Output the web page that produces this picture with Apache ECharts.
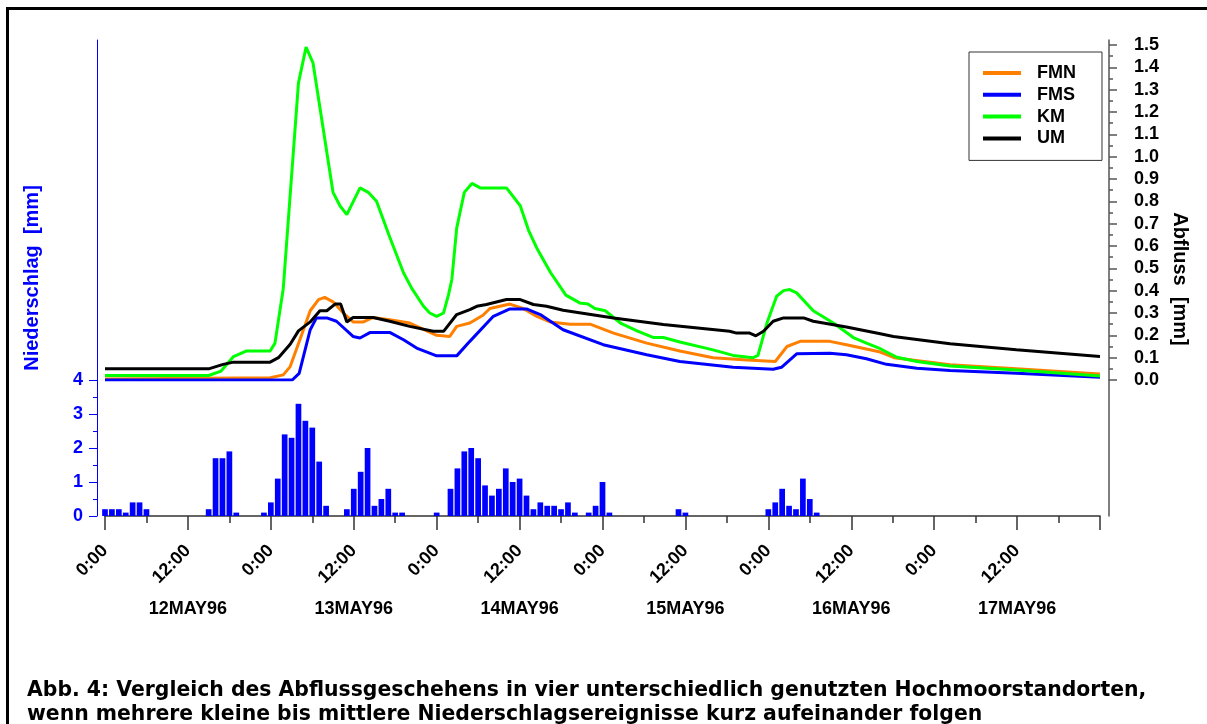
<!DOCTYPE html>
<html><head><meta charset="utf-8">
<script src="https://cdn.jsdelivr.net/npm/echarts@6/dist/echarts.min.js"></script>
<style>html,body{margin:0;padding:0;background:#fff}#chart{width:1207px;height:724px}</style>
</head><body><div id="chart"></div>
<script>
// ---- data ----
const dayLabels = ['12MAY96','13MAY96','14MAY96','15MAY96','16MAY96','17MAY96'];
const dayCenters = [12, 36, 60, 84, 108, 132];
const abflussTicks = [0,0.1,0.2,0.3,0.4,0.5,0.6,0.7,0.8,0.9,1.0,1.1,1.2,1.3,1.4,1.5];
const abflussMinorTicks = [0.05,0.15,0.25,0.35,0.45,0.55,0.65,0.75,0.85,0.95,1.05,1.15,1.25,1.35,1.45];
const seriesNames = ['FMN','FMS','KM','UM'];
const captionLines = [
  'Abb. 4: Vergleich des Abflussgeschehens in vier unterschiedlich genutzten Hochmoorstandorten,',
  'wenn mehrere kleine bis mittlere Niederschlagsereignisse kurz aufeinander folgen'
];

// precipitation (hour after 12MAY96 0:00, mm)
const precipHours = [0,1,2,3,4,5,6, 15,16,17,18,19, 23,24,25,26,27,28,29,30,31,32,
  35,36,37,38,39,40,41,42,43, 48, 50,51,52,53,54,55,56,57,58,59,60,61,62,63,64,65,66,67,68,
  70,71,72,73, 83,84, 96,97,98,99,100,101,102,103];
const precipValues = [0.2,0.2,0.2,0.1,0.4,0.4,0.2, 0.2,1.7,1.7,1.9,0.1, 0.1,0.4,1.1,2.4,2.3,3.3,2.8,2.6,1.6,0.3,
  0.2,0.8,1.3,2.0,0.3,0.5,0.8,0.1,0.1, 0.1, 0.8,1.4,1.9,2.0,1.7,0.9,0.6,0.8,1.4,1.0,1.1,0.6,0.2,0.4,0.3,0.3,0.2,0.4,0.1,
  0.1,0.3,1.0,0.1, 0.2,0.1, 0.2,0.4,0.8,0.3,0.2,1.1,0.5,0.1];

// runoff (hour, mm)
const fmnHours = [0,23.9,25.8,26.8,28.2,29.7,30.9,31.8,33.0,34.5,35.9,37.4,38.8,41.2,44.1,48.0,49.9,50.9,52.8,54.7,55.7,58.6,60.5,62.5,64.4,67.3,70.2,73.6,78.4,83.2,88.0,92.9,97.0,98.7,100.6,104.9,107.3,112.2,114.2,122.3,131.9,144];
const fmnValues = [0.005,0.01,0.023,0.06,0.18,0.31,0.36,0.37,0.35,0.30,0.26,0.26,0.28,0.27,0.255,0.20,0.195,0.24,0.255,0.29,0.32,0.34,0.32,0.285,0.26,0.25,0.25,0.21,0.165,0.13,0.10,0.09,0.083,0.15,0.173,0.173,0.158,0.125,0.10,0.068,0.05,0.027];

const fmsHours = [0,27.1,28.1,29.7,30.6,32.1,33.5,35.9,36.9,38.4,41.2,43.2,45.1,48.0,50.9,52.8,56.2,58.6,61.0,63.0,66.3,72.1,78.4,83.2,90.9,96.7,97.9,100.1,104.9,107.3,110.2,113.1,117.5,122.3,131.9,144];
const fmsValues = [0,0,0.03,0.225,0.278,0.278,0.263,0.195,0.188,0.213,0.213,0.18,0.143,0.108,0.108,0.173,0.285,0.318,0.318,0.293,0.225,0.158,0.113,0.083,0.057,0.048,0.057,0.117,0.12,0.113,0.095,0.07,0.053,0.042,0.03,0.012];

const kmHours = [0,15.0,16.8,18.6,20.5,23.9,24.6,25.8,28.0,29.1,30.1,33.0,34.0,35.0,36.9,38.1,39.3,41.2,43.2,44.4,46.1,47.0,48.0,49.0,49.7,50.2,50.9,52.0,53.1,54.3,58.1,60.1,61.3,62.5,64.5,66.7,68.7,69.9,70.9,72.4,74.6,77.0,79.4,80.8,83.2,88.0,90.9,93.8,94.5,95.8,97.2,98.2,99.1,100.1,102.5,105.4,108.3,110.2,112.2,114.6,117.5,122.3,131.9,144];
const kmValues = [0.02,0.02,0.04,0.105,0.13,0.13,0.165,0.41,1.33,1.49,1.42,0.84,0.78,0.74,0.86,0.84,0.80,0.64,0.48,0.41,0.33,0.30,0.285,0.30,0.38,0.45,0.68,0.84,0.88,0.86,0.86,0.78,0.67,0.59,0.48,0.38,0.345,0.34,0.32,0.31,0.255,0.22,0.19,0.19,0.17,0.135,0.11,0.10,0.11,0.255,0.375,0.40,0.405,0.39,0.31,0.255,0.19,0.165,0.14,0.102,0.083,0.063,0.045,0.018];

const umHours = [0,15.0,17.1,18.6,23.9,25.1,26.8,28.0,29.7,31.1,32.1,33.3,34.1,35.0,35.9,38.8,41.2,44.1,47.5,49.0,50.9,52.8,53.8,55.2,58.1,60.1,62.0,63.9,66.3,73.6,80.8,90.4,91.4,93.3,94.2,95.3,96.7,98.2,101.1,102.5,107.3,112.2,114.1,122.3,131.9,144];
const umValues = [0.05,0.05,0.07,0.08,0.08,0.10,0.16,0.22,0.26,0.31,0.31,0.34,0.34,0.26,0.28,0.28,0.263,0.24,0.218,0.218,0.293,0.315,0.33,0.338,0.36,0.36,0.338,0.33,0.312,0.278,0.248,0.218,0.21,0.21,0.198,0.218,0.263,0.278,0.278,0.263,0.237,0.207,0.195,0.162,0.135,0.105];

// ---- chart ----
const FONT = '"Liberation Sans", Arial, sans-serif';
const pairs = (h, v) => h.map((x, i) => [x, v[i]]);
const chart = echarts.init(document.getElementById('chart'), null, {renderer: 'canvas'});
const TOPMAX = 1.522;
const axisGrey = '#555';
const option = {
  animation: false,
  backgroundColor: '#fff',
  textStyle: {fontFamily: FONT},
  title: {
    text: captionLines.join('\n'), left: 22, top: 674,
    textStyle: {fontFamily: '"DejaVu Sans", Verdana, sans-serif', fontSize: 20.4, fontWeight: 'bold', lineHeight: 24, color: '#000'}
  },
  legend: {
    data: seriesNames, orient: 'vertical', left: 969, top: 52,
    icon: 'rect', itemWidth: 38, itemHeight: 4, itemGap: 3.8,
    padding: [12, 26, 13, 14], borderColor: '#333', borderWidth: 1,
    selectedMode: false,
    textStyle: {fontFamily: FONT, fontSize: 18, fontWeight: 'bold', color: '#000', lineHeight: 18, padding: [0, 0, 0, 11]}
  },
  grid: [
    {left: 105, width: 995, top: 40, height: 340},
    {left: 105, width: 995, top: 380, height: 136}
  ],
  xAxis: [
    {gridIndex: 0, type: 'value', min: 0, max: 144, show: false},
    {gridIndex: 1, type: 'value', min: 0, max: 144, interval: 12,
      axisLine: {show: true, onZero: false, lineStyle: {color: '#333', width: 1.5}},
      axisTick: {show: true, length: 14, lineStyle: {color: '#333', width: 1.5}},
      minorTick: {show: true, splitNumber: 2, length: 7, lineStyle: {color: '#333', width: 1.5}},
      splitLine: {show: false}, minorSplitLine: {show: false},
      axisLabel: {rotate: 45, margin: 32, fontSize: 18, fontWeight: 'bold', color: '#000',
        formatter: v => v === 144 ? '' : (v % 24 === 0 ? '0:00' : '12:00')}
    },
    {gridIndex: 1, type: 'value', min: 0, max: 144, position: 'bottom',
      axisLine: {show: false, onZero: false}, axisTick: {show: false}, splitLine: {show: false},
      axisLabel: {customValues: dayCenters, margin: 84, fontSize: 18, fontWeight: 'bold', color: '#000',
        formatter: v => dayLabels[dayCenters.indexOf(v)] || ''}
    }
  ],
  yAxis: [
    {gridIndex: 0, type: 'value', min: 0, max: TOPMAX, position: 'left', offset: 8,
      axisLine: {show: true, onZero: false, lineStyle: {color: '#0000ff', width: 1}},
      axisTick: {show: false}, axisLabel: {show: false}, splitLine: {show: false}},
    {gridIndex: 0, type: 'value', min: 0, max: TOPMAX, position: 'right', offset: 9,
      axisLine: {show: true, onZero: false, lineStyle: {color: axisGrey, width: 1.5}},
      axisTick: {show: true, customValues: abflussTicks, length: 8, lineStyle: {color: axisGrey, width: 1.5}},
      axisLabel: {customValues: abflussTicks, formatter: v => v.toFixed(1), align: 'right', margin: 50,
        fontSize: 18, fontWeight: 'bold', color: '#000'},
      splitLine: {show: false}},
    {gridIndex: 0, type: 'value', min: 0, max: TOPMAX, position: 'right', offset: 9,
      axisLine: {show: false, onZero: false},
      axisTick: {show: true, customValues: abflussMinorTicks, length: 4, lineStyle: {color: axisGrey, width: 1.5}},
      axisLabel: {show: false}, splitLine: {show: false}},
    {gridIndex: 1, type: 'value', min: 0, max: 4, interval: 1, position: 'left', offset: 8,
      axisLine: {show: true, onZero: false, lineStyle: {color: '#0000ff', width: 1}},
      axisTick: {show: true, length: 8, lineStyle: {color: '#0000ff', width: 1}},
      minorTick: {show: true, splitNumber: 2, length: 4, lineStyle: {color: '#0000ff', width: 1}},
      axisLabel: {margin: 14, fontSize: 18, fontWeight: 'bold', color: '#0000ff'},
      splitLine: {show: false}, minorSplitLine: {show: false}},
    {gridIndex: 1, type: 'value', min: 0, max: 4, position: 'right', offset: 9,
      axisLine: {show: true, onZero: false, lineStyle: {color: axisGrey, width: 1.5}},
      axisTick: {show: false}, axisLabel: {show: false}, splitLine: {show: false}}
  ],
  graphic: [
    {type: 'rect', silent: true, z: 100, shape: {x: 7.5, y: 8.5, width: 1230, height: 760},
      style: {fill: null, stroke: '#000', lineWidth: 3}},
    {type: 'text', x: 32, y: 278, rotation: Math.PI / 2, silent: true,
      style: {text: 'Niederschlag  [mm]', fill: '#0000ff', fontSize: 20, fontWeight: 'bold', fontFamily: FONT, align: 'center', verticalAlign: 'middle'}},
    {type: 'text', x: 1180, y: 279, rotation: -Math.PI / 2, silent: true,
      style: {text: 'Abfluss  [mm]', fill: '#000', fontSize: 20, fontWeight: 'bold', fontFamily: FONT, align: 'center', verticalAlign: 'middle'}}
  ],
  series: [
    {name: 'Niederschlag', type: 'bar', xAxisIndex: 1, yAxisIndex: 3, barWidth: 5.7,
      data: pairs(precipHours, precipValues), itemStyle: {color: '#0000ff'}},
    {name: 'FMN', type: 'line', xAxisIndex: 0, yAxisIndex: 1, data: pairs(fmnHours, fmnValues),
      symbol: 'none', color: '#ff8000', lineStyle: {width: 3, color: '#ff8000'}},
    {name: 'FMS', type: 'line', xAxisIndex: 0, yAxisIndex: 1, data: pairs(fmsHours, fmsValues),
      symbol: 'none', color: '#0000ff', lineStyle: {width: 3, color: '#0000ff'}},
    {name: 'KM', type: 'line', xAxisIndex: 0, yAxisIndex: 1, data: pairs(kmHours, kmValues),
      symbol: 'none', color: '#00ff00', lineStyle: {width: 3, color: '#00ff00'}},
    {name: 'UM', type: 'line', xAxisIndex: 0, yAxisIndex: 1, data: pairs(umHours, umValues),
      symbol: 'none', color: '#000000', lineStyle: {width: 3, color: '#000000'}}
  ]
};
chart.setOption(option);
</script>
</body></html>
